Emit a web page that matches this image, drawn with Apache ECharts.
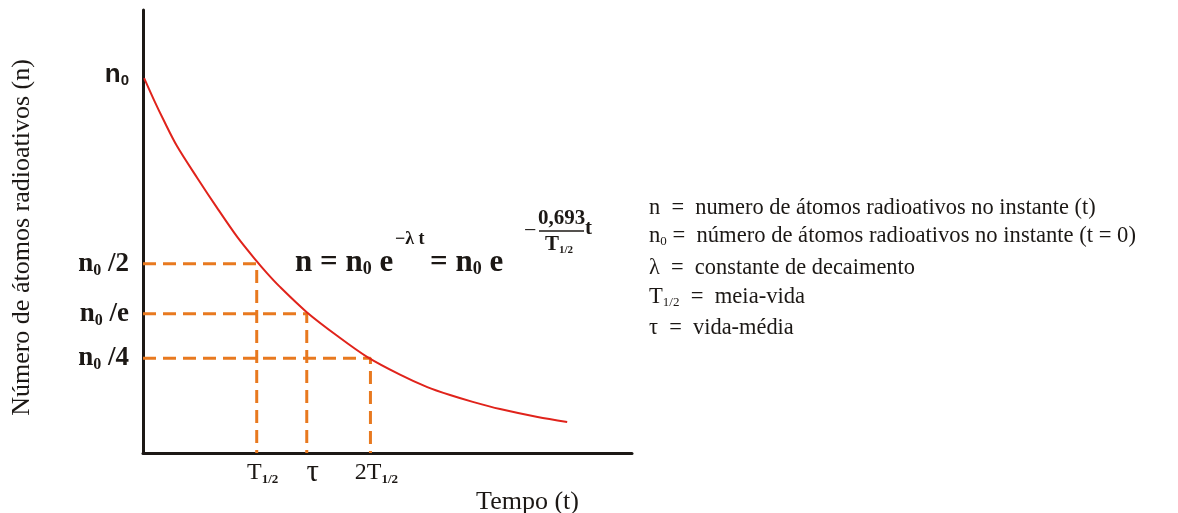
<!DOCTYPE html>
<html>
<head>
<meta charset="utf-8">
<script src="https://cdn.jsdelivr.net/npm/echarts@6/dist/echarts.min.js"></script>
<style>
  html, body { margin: 0; padding: 0; background: #fff; }
  #chart { width: 1178px; height: 513px; }
</style>
</head>
<body>
<div id="chart"></div>
<script>
// decay curve (t in units of T1/2, n in units of n0)
const curveT = [0.01, 0.10, 0.18, 0.30, 0.48, 0.65, 0.83, 0.99, 1.09, 1.20, 1.44, 1.71, 1.97, 2.26, 2.50, 2.70, 2.90, 3.14, 3.47, 3.73];
const curveN = [0.99, 0.93, 0.88, 0.81, 0.725, 0.648, 0.57, 0.51, 0.475, 0.44, 0.372, 0.309, 0.254, 0.207, 0.174, 0.153, 0.135, 0.116, 0.095, 0.082];

// dashed guides: level on n axis and the time where they meet the curve
const guideLevels = [0.5, 0.368, 0.25];
const guideTimes = [1, 1.44, 2];

const yTickValues = [1, 0.5, 0.368, 0.25];
const yTickLabels = ['{top|n}{topSub|0}', '{n|n}{sub|0}{n| /2}', '{n|n}{sub|0}{n| /e}', '{n|n}{sub|0}{n| /4}'];
const xTickValues = [1, 1.44, 2];
const xTickLabels = ['{t|T}{ts|1/2}', '{tau|τ}', '{t|2T}{ts|1/2}'];

const serif = '"Liberation Serif", "DejaVu Serif", serif';
const ink = '#1c1815';
const red = '#e0231b';
const orange = '#e8791f';

const chart = echarts.init(document.getElementById('chart'));

const guideSeries = guideLevels.map((lvl, i) => ({
  type: 'line',
  data: [[0, lvl], [guideTimes[i], lvl], [guideTimes[i], 0]],
  symbol: 'none',
  silent: true,
  z: 2,
  lineStyle: { color: orange, width: 3, type: [13, 7] }
}));

const fRich = {
  m: { fontFamily: serif, fontSize: 31, fontWeight: 'bold', fill: ink, lineHeight: 32 },
  s: { fontFamily: serif, fontSize: 18, fontWeight: 'bold', fill: ink, verticalAlign: 'bottom', lineHeight: 12 }
};
const lRich = {
  m: { fontFamily: serif, fontSize: 22.6, fill: ink, lineHeight: 24 },
  s: { fontFamily: serif, fontSize: 13, fill: ink, verticalAlign: 'bottom', lineHeight: 8 }
};

const option = {
  animation: false,
  grid: { left: 143, right: 546, top: 10, bottom: 60, outerBoundsMode: 'none' },
  xAxis: {
    type: 'value',
    min: 0,
    max: 4.3,
    name: 'Tempo (t)',
    nameLocation: 'middle',
    nameGap: 36,
    nameMoveOverlap: false,
    nameTextStyle: { fontFamily: serif, fontSize: 26, color: ink, padding: [0, 0, 0, 280] },
    axisLine: { onZero: false, lineStyle: { color: ink, width: 3 } },
    axisTick: { show: false },
    splitLine: { show: false },
    axisLabel: {
      customValues: xTickValues,
      margin: 7,
      padding: [0, 0, 0, 12],
      formatter: v => xTickLabels[xTickValues.indexOf(v)] || '',
      rich: {
        t: { fontFamily: serif, fontSize: 24, color: ink, lineHeight: 26 },
        ts: { fontFamily: serif, fontSize: 13, fontWeight: 'bold', color: ink, verticalAlign: 'bottom', lineHeight: 10 },
        tau: { fontFamily: serif, fontSize: 31, color: ink, lineHeight: 26 }
      }
    }
  },
  yAxis: {
    type: 'value',
    min: 0,
    max: 1.17,
    name: 'Número de átomos radioativos (n)',
    nameLocation: 'middle',
    nameRotate: 90,
    nameGap: 108,
    nameMoveOverlap: false,
    nameTextStyle: { fontFamily: serif, fontSize: 26, color: ink, padding: [0, 12, 0, 0] },
    axisLine: { onZero: false, lineStyle: { color: ink, width: 3 } },
    axisTick: { show: false },
    splitLine: { show: false },
    axisLabel: {
      customValues: yTickValues,
      margin: 14,
      formatter: v => yTickLabels[yTickValues.indexOf(v)] || '',
      rich: {
        n: { fontFamily: serif, fontSize: 27, fontWeight: 'bold', color: ink, lineHeight: 30 },
        sub: { fontFamily: serif, fontSize: 16, fontWeight: 'bold', color: ink, verticalAlign: 'bottom', lineHeight: 10 },
        top: { fontFamily: '"Liberation Sans", Arial, sans-serif', fontSize: 26, fontWeight: 'bold', color: ink, lineHeight: 28 },
        topSub: { fontFamily: '"Liberation Sans", Arial, sans-serif', fontSize: 15, fontWeight: 'bold', color: ink, verticalAlign: 'bottom', lineHeight: 12 }
      }
    }
  },
  graphic: [
    // formula
    { type: 'text', left: 295, top: 247, style: { text: '{m|n = n}{s|0}{m| e}', rich: fRich } },
    { type: 'text', left: 395, top: 230, style: { text: '−λ t', fontFamily: serif, fontSize: 18, fontWeight: 'bold', fill: ink } },
    { type: 'text', left: 430, top: 247, style: { text: '{m|= n}{s|0}{m| e}', rich: fRich } },
    { type: 'text', left: 524, top: 220, style: { text: '−', fontFamily: serif, fontSize: 22, fill: ink } },
    { type: 'text', left: 538, top: 208, style: { text: '0,693', fontFamily: serif, fontSize: 21, fontWeight: 'bold', fill: ink } },
    { type: 'line', shape: { x1: 539, y1: 231, x2: 584, y2: 231 }, style: { stroke: ink, lineWidth: 1.5 } },
    { type: 'text', left: 545, top: 234, style: {
      text: '{m|T}{s|1/2}', rich: {
        m: { fontFamily: serif, fontSize: 21, fontWeight: 'bold', fill: ink, lineHeight: 22 },
        s: { fontFamily: serif, fontSize: 11, fontWeight: 'bold', fill: ink, verticalAlign: 'bottom', lineHeight: 8 }
      } } },
    { type: 'text', left: 585, top: 218, style: { text: 't', fontFamily: serif, fontSize: 21, fontWeight: 'bold', fill: ink } },
    // legend on the right
    { type: 'text', left: 649, top: 197, style: { text: 'n  =  numero de átomos radioativos no instante (t)', fontFamily: serif, fontSize: 22.4, fill: ink } },
    { type: 'text', left: 649, top: 225, style: { text: '{m|n}{s|0}{m| =  número de átomos radioativos no instante (t = 0)}', rich: lRich } },
    { type: 'text', left: 649, top: 257, style: { text: 'λ  =  constante de decaimento', fontFamily: serif, fontSize: 22.4, fill: ink } },
    { type: 'text', left: 649, top: 286, style: { text: '{m|T}{s|1/2}{m|  =  meia-vida}', rich: lRich } },
    { type: 'text', left: 649, top: 317, style: { text: 'τ  =  vida-média', fontFamily: serif, fontSize: 22.4, fill: ink } }
  ],
  series: [
    ...guideSeries,
    {
      type: 'line',
      data: curveT.map((t, i) => [t, curveN[i]]),
      smooth: 0.3,
      symbol: 'none',
      z: 3,
      lineStyle: { color: red, width: 2, join: 'round' }
    }
  ]
};

chart.setOption(option);
</script>
</body>
</html>
